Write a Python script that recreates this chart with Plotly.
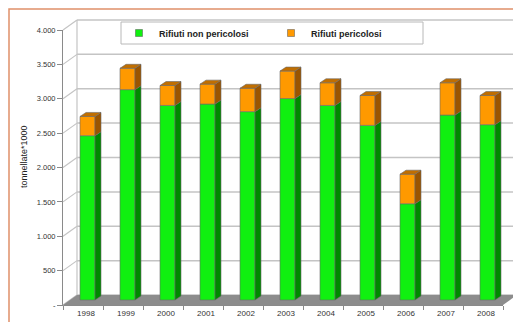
import plotly.graph_objects as go

# ---------------- data ----------------
years = ['1998', '1999', '2000', '2001', '2002', '2003', '2004', '2005', '2006', '2007', '2008']
non_pericolosi = [2390, 3060, 2830, 2850, 2740, 2930, 2830, 2540, 1400, 2690, 2550]
pericolosi = [280, 310, 290, 290, 340, 400, 330, 435, 430, 470, 425]
y_tickvals = [0, 500, 1000, 1500, 2000, 2500, 3000, 3500, 4000]
y_ticktext = ['-', '500', '1.000', '1.500', '2.000', '2.500', '3.000', '3.500', '4.000']
name_np = 'Rifiuti non pericolosi'
name_p = 'Rifiuti pericolosi'

# ---------------- geometry (pixels) ----------------
W, H = 513, 322
FX0, FX1 = 63, 503      # front x-axis pixel span
FY0, FY1 = 305, 30      # front y-axis pixel span (0 .. 4000)
YMAX = 4000
n = len(years)
ux = n / (FX1 - FX0)            # x units per px
uy = YMAX / (FY0 - FY1)         # y units per px

def px2x(p):
    return -0.5 + (p - FX0) * ux

x2range = [px2x(0), px2x(W)]
y2range = [(FY0 - H) * uy, FY0 * uy]

WALL_DX, WALL_DY = 14 * ux, 10 * uy     # back-wall depth offset
BAR_BASE = 5 * uy                        # bar base raised (mid depth)
BAR_OFF = 4.5 * ux                       # front face centre shift
BAR_W = 15 * ux
BAR_DX, BAR_DY = 6 * ux, 4 * uy          # bar depth

C_GREEN = '#10f010'
C_GREEN_SIDE = '#008800'
C_ORANGE = '#ff9900'
C_ORANGE_SIDE = '#9a5500'
C_ORANGE_TOP = '#c06e00'
C_GRID = '#c4c4c4'
C_AXIS = '#8a8a8a'
C_FLOOR = '#8c8c8c'
FONT = 'Liberation Sans, Arial, sans-serif'

fig = go.Figure()

# legend entries (on the front axes)
fig.add_trace(go.Scatter(x=[None], y=[None], mode='markers', name='<b>' + name_np + '</b>',
                         marker=dict(symbol='square', size=7, color=C_GREEN,
                                     line=dict(width=0.5, color='#555')),
                         xaxis='x', yaxis='y'))
fig.add_trace(go.Scatter(x=[None], y=[None], mode='markers', name='<b>' + name_p + '</b>',
                         marker=dict(symbol='square', size=7, color=C_ORANGE,
                                     line=dict(width=0.5, color='#555')),
                         xaxis='x', yaxis='y'))

xs = [i + BAR_OFF for i in range(n)]
totals = [a + b for a, b in zip(non_pericolosi, pericolosi)]

# front faces
fig.add_trace(go.Bar(x=xs, y=non_pericolosi, base=[BAR_BASE] * n, width=BAR_W,
                     marker=dict(color=C_GREEN, line=dict(width=0.6, color='#6a6a6a')),
                     showlegend=False, xaxis='x2', yaxis='y2', hoverinfo='skip'))
fig.add_trace(go.Bar(x=xs, y=pericolosi, base=[BAR_BASE + g for g in non_pericolosi], width=BAR_W,
                     marker=dict(color=C_ORANGE, line=dict(width=0.6, color='#6a6a6a')),
                     showlegend=False, xaxis='x2', yaxis='y2', hoverinfo='skip'))

# side faces and tops
def side_poly(bottoms, tops):
    px, py = [], []
    for i in range(n):
        xr = xs[i] + BAR_W / 2
        b, t = bottoms[i], tops[i]
        px += [xr, xr + BAR_DX, xr + BAR_DX, xr, xr, None]
        py += [b, b + BAR_DY, t + BAR_DY, t, b, None]
    return px, py

def top_poly(tops):
    px, py = [], []
    for i in range(n):
        xl = xs[i] - BAR_W / 2
        xr = xs[i] + BAR_W / 2
        t = tops[i]
        px += [xl, xr, xr + BAR_DX, xl + BAR_DX, xl, None]
        py += [t, t, t + BAR_DY, t + BAR_DY, t, None]
    return px, py

gb = [BAR_BASE] * n
gt = [BAR_BASE + g for g in non_pericolosi]
ot = [BAR_BASE + t for t in totals]
for (px, py), col in [(side_poly(gb, gt), C_GREEN_SIDE),
                      (side_poly(gt, ot), C_ORANGE_SIDE),
                      (top_poly(ot), C_ORANGE_TOP)]:
    fig.add_trace(go.Scatter(x=px, y=py, mode='lines', fill='toself', fillcolor=col,
                             line=dict(width=0.6, color='#6a6a6a'),
                             showlegend=False, xaxis='x2', yaxis='y2', hoverinfo='skip'))

shapes = []
# back wall gridlines + side-wall diagonals
xl0 = -0.5
for v in y_tickvals:
    shapes.append(dict(type='line', xref='x2', yref='y2', layer='below',
                       x0=xl0 + WALL_DX, y0=v + WALL_DY, x1=x2range[1] + 1, y1=v + WALL_DY,
                       line=dict(color=C_GRID, width=1.5)))
    shapes.append(dict(type='line', xref='x2', yref='y2', layer='below',
                       x0=xl0, y0=v, x1=xl0 + WALL_DX, y1=v + WALL_DY,
                       line=dict(color=C_GRID, width=1.2)))
shapes.append(dict(type='line', xref='x2', yref='y2', layer='below',
                   x0=xl0 + WALL_DX, y0=WALL_DY, x1=xl0 + WALL_DX, y1=YMAX + WALL_DY,
                   line=dict(color=C_GRID, width=1.2)))
# floor
xr0 = n - 0.5
shapes.append(dict(type='path', xref='x2', yref='y2', layer='below',
                   path=f'M{xl0},0 L{xr0},0 L{xr0 + WALL_DX},{WALL_DY} L{xl0 + WALL_DX},{WALL_DY} Z',
                   fillcolor=C_FLOOR, line=dict(width=0)))
# legend box
shapes.append(dict(type='rect', xref='paper', yref='paper', layer='below',
                   x0=121 / W, x1=423 / W, y0=1 - 44 / H, y1=1 - 22 / H,
                   line=dict(color='#b8b8b8', width=1), fillcolor='white'))
# outer orange frame
shapes.append(dict(type='rect', xref='paper', yref='paper',
                   x0=9 / W, x1=1.2, y0=-0.2, y1=1 - 9 / H,
                   line=dict(color='#e0906a', width=1.5), fillcolor='rgba(0,0,0,0)'))

fig.update_layout(
    width=W, height=H,
    margin=dict(l=0, r=0, t=0, b=0),
    paper_bgcolor='white', plot_bgcolor='rgba(0,0,0,0)',
    barmode='overlay',
    shapes=shapes,
    font=dict(family=FONT, color='#333333'),
    xaxis=dict(domain=[FX0 / W, FX1 / W], range=[-0.5, n - 0.5], anchor='y',
               tickvals=list(range(n)), ticktext=years, ticks='', showgrid=False,
               zeroline=False, showline=True, linecolor=C_AXIS, linewidth=1,
               tickfont=dict(size=8, color='#333'), ticklabelshift=3,
               minor=dict(tickvals=[i - 0.5 for i in range(n + 1)], ticks='outside',
                          ticklen=4, tickcolor=C_AXIS, showgrid=False),
               automargin=False, fixedrange=True),
    yaxis=dict(domain=[(H - FY0) / H, (H - FY1) / H], range=[0, YMAX], anchor='x',
               tickvals=y_tickvals, ticktext=y_ticktext, ticks='outside', ticklen=5,
               tickcolor=C_AXIS, showgrid=False, zeroline=False, showline=True,
               linecolor=C_AXIS, linewidth=1, tickfont=dict(size=7.5, color='#333'),
               automargin=False, fixedrange=True),
    xaxis2=dict(domain=[0, 1], range=x2range, anchor='y2', visible=False, fixedrange=True),
    yaxis2=dict(domain=[0, 1], range=y2range, anchor='x2', visible=False, fixedrange=True),
    legend=dict(orientation='h', x=119 / W, y=1 - 33 / H, xanchor='left', yanchor='middle',
                bgcolor='rgba(0,0,0,0)', borderwidth=0,
                font=dict(size=9, color='#222'), entrywidth=107, entrywidthmode='pixels',
                traceorder='normal'),
    annotations=[dict(text='tonnellate*1000', xref='paper', yref='paper',
                      x=17 / W, y=1 - 157 / H, textangle=-90, showarrow=False,
                      font=dict(size=9, color='#222'))],
)

fig.write_html('out.html')
